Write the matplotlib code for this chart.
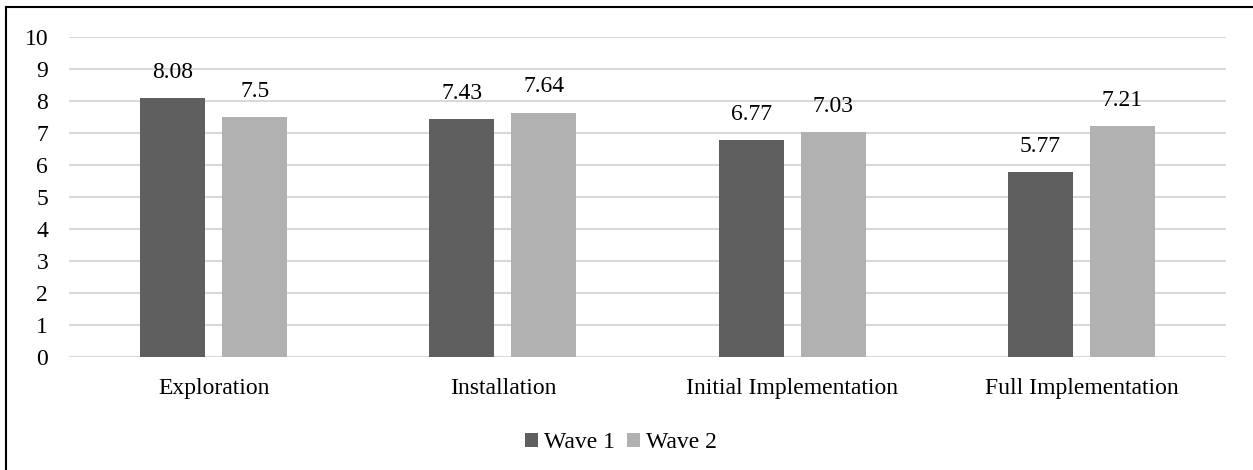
import numpy as np
import matplotlib.pyplot as plt
from matplotlib.lines import Line2D

categories = ["Exploration", "Installation", "Initial Implementation", "Full Implementation"]
wave1 = [8.08, 7.43, 6.77, 5.77]
wave2 = [7.5, 7.64, 7.03, 7.21]
wave1_labels = ["8.08", "7.43", "6.77", "5.77"]
wave2_labels = ["7.5", "7.64", "7.03", "7.21"]

plt.rcParams['font.family'] = ['Liberation Serif', 'DejaVu Serif']
fs = 17

fig = plt.figure(figsize=(12.53, 4.70), dpi=100)
ax = fig.add_axes([69 / 1253, 113 / 470, (1226 - 69) / 1253, 320 / 470])

x = np.arange(len(categories))
w = 0.225
off = 0.142
b1 = ax.bar(x - off, wave1, w, color="#5f5f5f", label="Wave 1", zorder=3)
b2 = ax.bar(x + off, wave2, w, color="#b1b1b1", label="Wave 2", zorder=3)
ax.bar_label(b1, labels=wave1_labels, padding=11, fontsize=fs)
ax.bar_label(b2, labels=wave2_labels, padding=11, fontsize=fs)

ax.set_xlim(-0.5, len(categories) - 0.5)
ax.set_ylim(0, 10)
ax.set_yticks(range(0, 11))
ax.set_xticks(x)
ax.set_xticklabels(categories)
ax.tick_params(axis="both", length=0, labelsize=fs)
ax.tick_params(axis="x", pad=15)
ax.tick_params(axis="y", pad=15)
ax.grid(axis="y", color="#d9d9d9", linewidth=1.5, zorder=0)
for s in ax.spines.values():
    s.set_visible(False)

fig.legend(handles=[b1, b2], loc="center", bbox_to_anchor=(621 / 1253, 1 - 443 / 470),
           ncol=2, frameon=False, fontsize=fs, handlelength=0.55, handleheight=0.55,
           handletextpad=0.25, columnspacing=0.5)

# page frame (top and left edges)
fig.add_artist(Line2D([6 / 1253, 1.0], [1 - 7 / 470, 1 - 7 / 470], color="black", linewidth=1.5))
fig.add_artist(Line2D([6 / 1253, 6 / 1253], [0, 1 - 7 / 470], color="black", linewidth=1.5))

fig.savefig("out.png", dpi=100)
